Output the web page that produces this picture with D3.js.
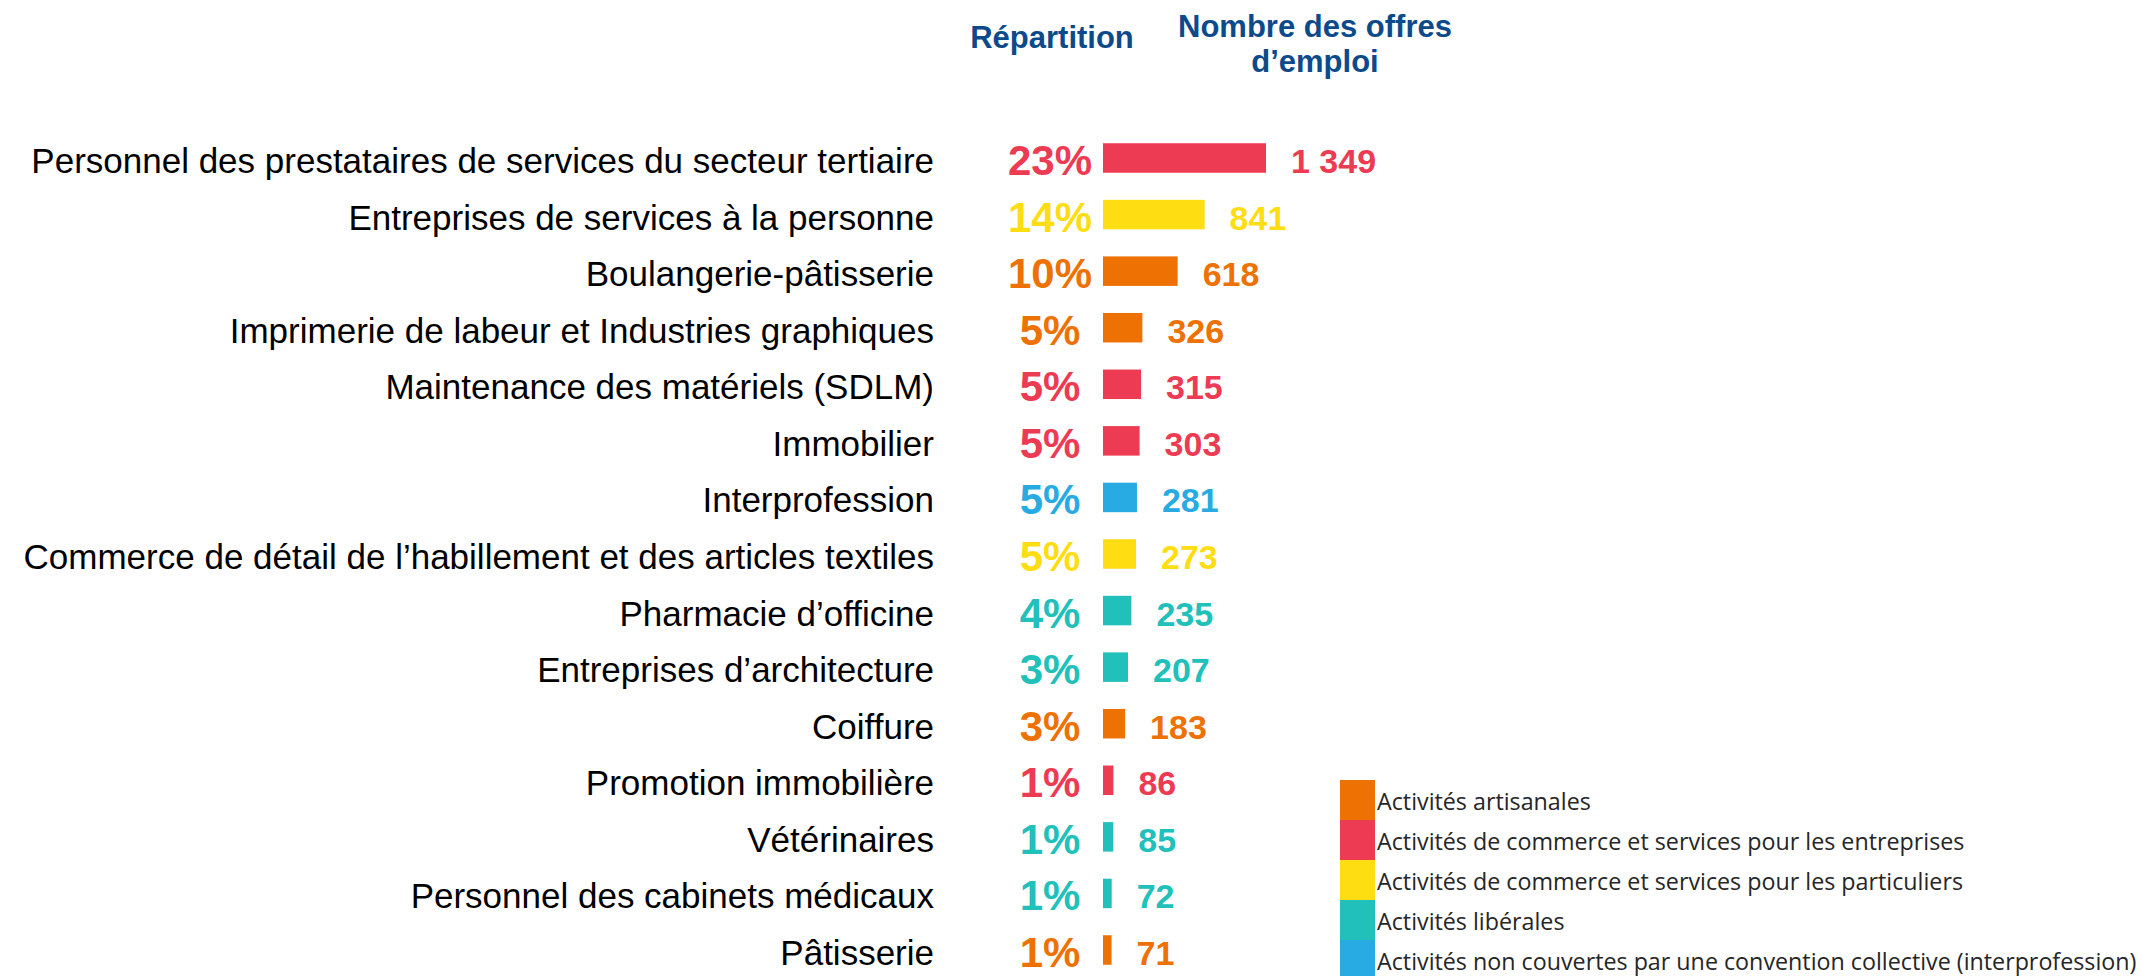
<!DOCTYPE html>
<head>
<meta charset="utf-8">
<style>
body {
  margin: 0;
  background: #fff;
}
svg {
  display: block;
}
.head {
  font: bold 31px "Liberation Sans", Arial, sans-serif;
  fill: #0d4a8b;
  text-anchor: middle;
}
.label {
  font: 35px "Liberation Sans", Arial, sans-serif;
  fill: #000;
  text-anchor: end;
}
.pct {
  font: bold 42px "Liberation Sans", Arial, sans-serif;
  text-anchor: middle;
}
.value {
  font: bold 34px "Liberation Sans", Arial, sans-serif;
}
.legend text {
  font: 24px "Open Sans", sans-serif;
  fill: #262626;
}
</style>
</head>
<body>
<svg width="2143" height="976"></svg>
<script src="https://d3js.org/d3.v7.min.js"></script>
<script>

// data
var categories = [
  "Personnel des prestataires de services du secteur tertiaire",
  "Entreprises de services à la personne",
  "Boulangerie-pâtisserie",
  "Imprimerie de labeur et Industries graphiques",
  "Maintenance des matériels (SDLM)",
  "Immobilier",
  "Interprofession",
  "Commerce de détail de l’habillement et des articles textiles",
  "Pharmacie d’officine",
  "Entreprises d’architecture",
  "Coiffure",
  "Promotion immobilière",
  "Vétérinaires",
  "Personnel des cabinets médicaux",
  "Pâtisserie"
];
var offres = [1349, 841, 618, 326, 315, 303, 281, 273, 235, 207, 183, 86, 85, 72, 71];
var repartition = ["23%", "14%", "10%", "5%", "5%", "5%", "5%", "5%", "4%", "3%", "3%", "1%", "1%", "1%", "1%"];
var groupe = [1, 2, 0, 0, 1, 1, 4, 2, 3, 3, 0, 1, 3, 3, 0];

var groupes = [
  "Activités artisanales",
  "Activités de commerce et services pour les entreprises",
  "Activités de commerce et services pour les particuliers",
  "Activités libérales",
  "Activités non couvertes par une convention collective (interprofession)"
];
var couleurs = ["#ed7103", "#ed3b53", "#fedd12", "#21c0ba", "#28abe3"];

var rows = categories.map(function(c, i) {
  return { name: c, value: offres[i], pct: repartition[i], g: groupe[i] };
});

var svg = d3.select("svg");

var color = d3.scaleOrdinal().domain(d3.range(groupes.length)).range(couleurs);

var x = d3.scaleLinear()
    .domain([0, d3.max(offres)])
    .range([1103, 1266]);

var y = d3.scalePoint()
    .domain(categories)
    .range([158, 950]);

var barH = 29.5;

// column headers
svg.append("text").attr("class", "head")
    .attr("x", 1052).attr("y", 48)
    .text("Répartition");
svg.append("text").attr("class", "head")
    .attr("x", 1315).attr("y", 37)
    .text("Nombre des offres");
svg.append("text").attr("class", "head")
    .attr("x", 1315).attr("y", 72)
    .text("d’emploi");

var row = svg.selectAll(".row")
  .data(rows)
  .enter().append("g")
    .attr("class", "row")
    .attr("transform", function(d) { return "translate(0," + y(d.name) + ")"; });

row.append("text")
    .attr("class", "label")
    .attr("x", 934)
    .attr("y", 15)
    .text(function(d) { return d.name; });

row.append("text")
    .attr("class", "pct")
    .attr("x", 1050)
    .attr("y", 17)
    .style("fill", function(d) { return color(d.g); })
    .text(function(d) { return d.pct; });

row.append("rect")
    .attr("x", x(0))
    .attr("y", -barH / 2)
    .attr("width", function(d) { return x(d.value) - x(0); })
    .attr("height", barH)
    .style("fill", function(d) { return color(d.g); });

row.append("text")
    .attr("class", "value")
    .attr("x", function(d) { return x(d.value) + 25; })
    .attr("y", 15)
    .style("fill", function(d) { return color(d.g); })
    .text(function(d) { return d3.format(",")(d.value).replace(",", " "); });

// legend
var legend = svg.append("g")
    .attr("class", "legend")
    .attr("transform", "translate(1340,780)");

var item = legend.selectAll("g")
  .data(groupes)
  .enter().append("g")
    .attr("transform", function(d, i) { return "translate(0," + i * 40 + ")"; });

item.append("rect")
    .attr("width", 35)
    .attr("height", 40)
    .style("fill", function(d, i) { return color(i); });

var ltext = item.append("text")
    .attr("x", 0)
    .attr("y", 30)
    .text(function(d) { return d; });

// squeeze the legend font to the width of the original (narrow font there)
var widest = d3.max(ltext.nodes(), function(n) { return n.getComputedTextLength(); });
var k = 760 / widest;
ltext.attr("transform", "translate(37,0) scale(" + k + ",1)");

</script>
</body>
